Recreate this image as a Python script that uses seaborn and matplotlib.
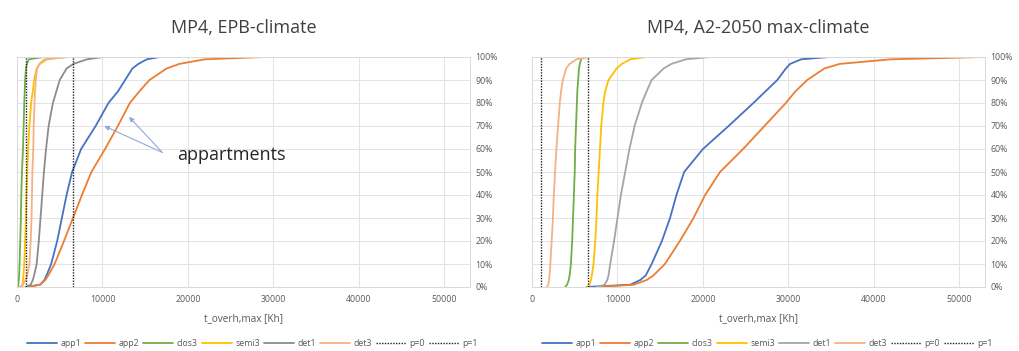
import numpy as np
import pandas as pd
import seaborn as sns
import matplotlib.pyplot as plt
from matplotlib.ticker import FuncFormatter, MultipleLocator

sns.set_theme(style="white")
plt.rcParams['font.family'] = ['Open Sans', 'DejaVu Sans']

# Cumulative share (%) at which each overheating value is read
pct = [0, 1, 3, 5, 10, 20, 30, 40, 50, 60, 70, 80, 85, 90, 95, 97, 99, 100]

# EPB-climate: overheating degree-hours [Kh] per dwelling type
epb_app1 = [1000, 2700, 3200, 3450, 4000, 4700, 5250, 5800, 6450, 7500, 9200, 10700, 11800, 12650, 13500, 14200, 15200, 16700]
epb_app2 = [1200, 2700, 3300, 3650, 4400, 5500, 6550, 7600, 8700, 10300, 11800, 13200, 14300, 15500, 17500, 19000, 22000, 29000]
epb_clos3 = [100, 150, 200, 250, 300, 380, 450, 500, 580, 700, 780, 850, 900, 950, 1050, 1150, 1400, 3100]
epb_semi3 = [600, 650, 700, 750, 850, 950, 1050, 1100, 1200, 1300, 1450, 1650, 1850, 2000, 2300, 2700, 3500, 5800]
epb_det1 = [1000, 1600, 1850, 2000, 2300, 2550, 2750, 2950, 3150, 3400, 3700, 4200, 4600, 5000, 5800, 6600, 8200, 10100]
epb_det3 = [300, 700, 1000, 1200, 1450, 1600, 1700, 1750, 1800, 1900, 1950, 2050, 2100, 2200, 2350, 2600, 3200, 6000]

# A2-2050 max-climate
a2_app1 = [6400, 11500, 12650, 13300, 14000, 15200, 16150, 16900, 17800, 20000, 23000, 25900, 27300, 28700, 29700, 30200, 31500, 34800]
a2_app2 = [7600, 11900, 13400, 14200, 15550, 17300, 18900, 20250, 22000, 24700, 27200, 29700, 30800, 32200, 34200, 36000, 42000, 52900]
a2_clos3 = [3900, 4100, 4300, 4400, 4550, 4700, 4800, 4900, 5000, 5050, 5150, 5250, 5300, 5400, 5500, 5600, 5750, 5850]
a2_semi3 = [6500, 6700, 6900, 7000, 7200, 7400, 7550, 7650, 7800, 7950, 8100, 8350, 8550, 8950, 9900, 10500, 11500, 13400]
a2_det1 = [7600, 8500, 8800, 8950, 9150, 9600, 10000, 10400, 10900, 11400, 12000, 12850, 13400, 14000, 15400, 16300, 18000, 20800]
a2_det3 = [1750, 1900, 2000, 2050, 2150, 2300, 2450, 2550, 2700, 2850, 3050, 3250, 3400, 3600, 4000, 4400, 5200, 6800]

# Reference thresholds p=0 and p=1 [Kh]
thresh_p0 = 1000
thresh_p1 = 6500

series_names = ["app1", "app2", "clos3", "semi3", "det1", "det3"]
palette = {"app1": "#4472C4", "app2": "#ED7D31", "clos3": "#70AD47",
           "semi3": "#FFC000", "det1": "#8C8C8C", "det3": "#F4B183"}
palette_a2 = dict(palette, det1="#A5A5A5")

x_ticks = [0, 10000, 20000, 30000, 40000, 50000]
x_max = 53000
TXT = "#595959"


def to_long(series):
    rows = []
    for name, xs in zip(series_names, series):
        for x, p in zip(xs, pct):
            rows.append({"series": name, "x": x, "p": p})
    return pd.DataFrame(rows)


def draw_panel(ax, series, title, pal):
    df = to_long(series)
    ax.set_xlim(0, x_max)
    ax.set_ylim(0, 100)
    ax.xaxis.set_major_locator(MultipleLocator(10000))
    ax.yaxis.set_major_locator(MultipleLocator(10))
    ax.grid(True, color="#E3E3E3", linewidth=0.7)
    ax.set_axisbelow(True)
    for sp in ax.spines.values():
        sp.set_color("#D9D9D9")
        sp.set_linewidth(0.7)
    thr = pd.DataFrame({"x": [thresh_p0, thresh_p0, thresh_p1, thresh_p1],
                        "p": [0, 100, 0, 100],
                        "series": ["p=0", "p=0", "p=1", "p=1"]})
    sns.lineplot(data=df, x="x", y="p", hue="series", palette=pal,
                 hue_order=series_names, sort=False, estimator=None,
                 linewidth=1.3, ax=ax, legend=False)
    sns.lineplot(data=thr, x="x", y="p", units="series", estimator=None,
                 color="#222222", linestyle=(0, (1, 1)), linewidth=1.0,
                 ax=ax, legend=False)
    ax.yaxis.tick_right()
    ax.yaxis.set_major_formatter(FuncFormatter(lambda v, _: f"{int(v)}%"))
    ax.tick_params(axis="both", labelsize=6.3, labelcolor=TXT, length=0)
    ax.tick_params(axis="x", pad=6)
    ax.tick_params(axis="y", pad=4)
    ax.set_xticks(x_ticks)
    ax.set_xticklabels([str(t) for t in x_ticks])
    ax.set_xlabel("t_overh,max [Kh]", fontsize=7.2, color=TXT, labelpad=6)
    ax.set_ylabel("")
    ax.set_title(title, fontsize=13, color="#404040", pad=17)

    handles = [plt.Line2D([], [], color=pal[n], linewidth=1.3) for n in series_names]
    handles += [plt.Line2D([], [], color="#222222", linestyle=(0, (1, 1)), linewidth=1.0)
                for _ in range(2)]
    labels = series_names + ["p=0", "p=1"]
    ax.legend(handles, labels, loc="center", bbox_to_anchor=(0.52, -0.245),
              ncol=8, frameon=False, fontsize=6.3, handlelength=3.4,
              handletextpad=0.4, columnspacing=0.5, labelcolor=TXT,
              borderpad=0.1)


fig = plt.figure(figsize=(10.19, 3.51), dpi=100)
ax1 = fig.add_axes([17 / 1019, 1 - 287 / 351, 453 / 1019, 230 / 351])
ax2 = fig.add_axes([532 / 1019, 1 - 287 / 351, 453 / 1019, 230 / 351])

draw_panel(ax1, [epb_app1, epb_app2, epb_clos3, epb_semi3, epb_det1, epb_det3],
           "MP4, EPB-climate", palette)
draw_panel(ax2, [a2_app1, a2_app2, a2_clos3, a2_semi3, a2_det1, a2_det3],
           "MP4, A2-2050 max-climate", palette_a2)

# Callout pointing at the two apartment curves
arrow_style = dict(arrowstyle="-|>", color="#8FA9DC", linewidth=0.8,
                   mutation_scale=7, shrinkA=0, shrinkB=0)
ax1.annotate("", xy=(10200, 70), xytext=(17000, 58.5), arrowprops=arrow_style)
ax1.annotate("", xy=(13100, 74), xytext=(17000, 58.5), arrowprops=arrow_style)
ax1.text(18700, 57.5, "appartments", fontsize=13, color="#262626",
         va="center", ha="left")

fig.savefig("out.png", dpi=100)
